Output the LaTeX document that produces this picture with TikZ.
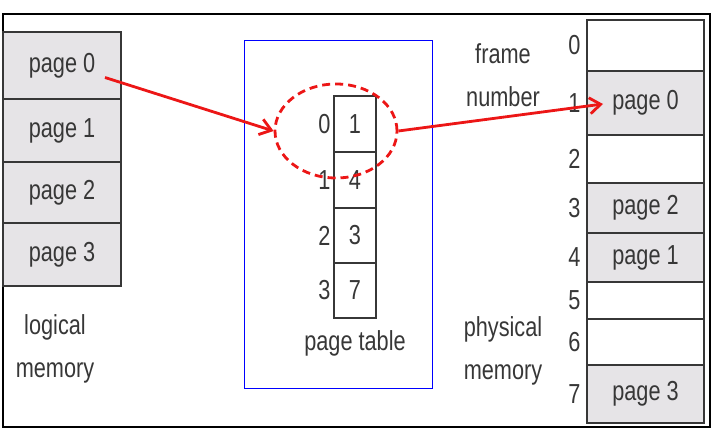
\documentclass[tikz,border=0pt]{standalone}
\usepackage{fontspec}
\setmainfont{Liberation Sans}[FakeStretch=0.79]
\usetikzlibrary{arrows.meta,shapes.geometric}
\definecolor{memG}{RGB}{230,228,231}
\definecolor{memK}{RGB}{55,55,55}
\definecolor{linkR}{RGB}{236,22,22}
\begin{document}
\begin{tikzpicture}[x=1pt,y=-1pt,>={Straight Barb[length=11pt,width=16pt]},
  every node/.style={font=\fontsize{27.5}{43}\selectfont,text=memK},
  cell/.style={draw=memK,line width=2.2pt,inner sep=0pt,outer sep=0pt},
  lcell/.style={cell,fill=memG,minimum width=118pt},
  pcell/.style={cell,minimum width=117pt},
  tcell/.style={cell,fill=white,minimum width=42pt},
  link/.style={draw=linkR,line width=2.8pt}]
\useasboundingbox (0,0) rectangle (724,438);
\draw[line width=2pt] (3,14) rectangle (710,427);
\draw[blue,line width=1pt] (244,41) rectangle (432,389);
% logical memory
\node[lcell,minimum height=67pt] (l0) at (62,65.5) {page 0};
\node[lcell,minimum height=63pt] (l1) at (62,130.5) {page 1};
\node[lcell,minimum height=61pt] (l2) at (62,192.5) {page 2};
\node[lcell,minimum height=63pt] (l3) at (62,254.5) {page 3};
\node[align=center] (lmem) at (55,349) {logical\\memory};
% page table
\node[tcell,minimum height=56pt] (t0) at (355,124) {1};
\node[tcell,minimum height=56pt] (t1) at (355,180) {4};
\node[tcell,minimum height=55pt] (t2) at (355,235.5) {3};
\node[tcell,minimum height=55pt] (t3) at (355,290.5) {7};
\node[anchor=east] (i0) at (t0.west) {0};
\node[anchor=east] (i1) at (t1.west) {1};
\node[anchor=east] (i2) at (t2.west) {2};
\node[anchor=east] (i3) at (t3.west) {3};
\node (ptab) at (355,343) {page table};
% physical memory
\node[pcell,minimum height=51pt] (p0) at (645.5,45.5) {};
\node[pcell,fill=memG,minimum height=64pt] (p1) at (645.5,103) {page 0};
\node[pcell,minimum height=48pt] (p2) at (645.5,159) {};
\node[pcell,fill=memG,minimum height=50pt] (p3) at (645.5,208) {page 2};
\node[pcell,fill=memG,minimum height=49pt] (p4) at (645.5,257.5) {page 1};
\node[pcell,minimum height=37pt] (p5) at (645.5,300.5) {};
\node[pcell,minimum height=46pt] (p6) at (645.5,342) {};
\node[pcell,fill=memG,minimum height=58pt] (p7) at (645.5,394) {page 3};
\node[anchor=east,xshift=-3pt] (f0) at (p0.west) {0};
\node[anchor=east,xshift=-3pt] (f1) at (p1.west) {1};
\node[anchor=east,xshift=-3pt] (f2) at (p2.west) {2};
\node[anchor=east,xshift=-3pt] (f3) at (p3.west) {3};
\node[anchor=east,xshift=-3pt] (f4) at (p4.west) {4};
\node[anchor=east,xshift=-3pt] (f5) at (p5.west) {5};
\node[anchor=east,xshift=-3pt] (f6) at (p6.west) {6};
\node[anchor=east,xshift=-3pt] (f7) at (p7.west) {7};
\node[align=center] (fnum) at (503,75) {frame\\number};
\node[align=center] (pmem) at (503,351) {physical\\memory};
% lookup of page 0
\node[ellipse,draw=linkR,line width=2.8pt,dash pattern=on 8pt off 5pt,
  minimum width=122pt,minimum height=94pt,inner sep=0pt] (sel) at (336,131) {};
\coordinate (from0) at ([shift={(-16,12)}]l0.east);
\coordinate (to0) at ([xshift=16pt,yshift=-1pt]p1.west);
\draw[link,->] (from0) -- (sel.west);
\draw[link,->] (sel.east) -- (to0);
\end{tikzpicture}
\end{document}
